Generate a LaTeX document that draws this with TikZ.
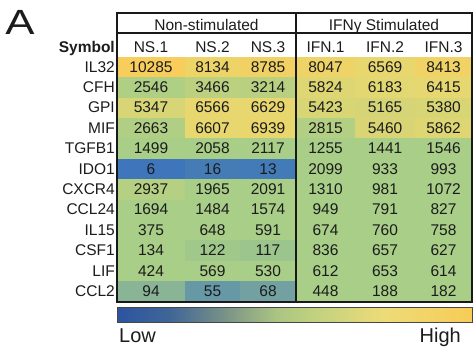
\documentclass[tikz,border=0pt]{standalone}
\usepackage{fontspec}
\setmainfont{Liberation Sans}

% colour bar: blue (low) -> green -> yellow/orange (high)
\pgfdeclarehorizontalshading{heatbar}{100bp}{%
  rgb(0bp)=(0.17,0.33,0.63);
  rgb(25bp)=(0.17,0.33,0.63);
  rgb(32.5bp)=(0.25,0.40,0.59);
  rgb(40bp)=(0.47,0.57,0.53);
  rgb(47.5bp)=(0.67,0.77,0.51);
  rgb(52.5bp)=(0.75,0.82,0.50);
  rgb(62.5bp)=(0.93,0.86,0.47);
  rgb(75bp)=(0.97,0.80,0.34);
  rgb(100bp)=(0.97,0.80,0.34)}

% cell colour from an expression value (piecewise blue -> green -> yellow -> orange)
\newcommand\heatfill[1]{%
  \pgfmathsetmacro\tlo{min(max((#1-6)/124,0),1)}%
  \pgfmathsetmacro\tmid{min(max((#1-2000)/4500,0),1)}%
  \pgfmathsetmacro\thi{min(max((#1-6500)/3785,0),1)}%
  \pgfmathtruncatemacro\hr{62+106*\tlo+64*\tmid+16*\thi}%
  \pgfmathtruncatemacro\hg{117+89*\tlo+10*\tmid-11*\thi}%
  \pgfmathtruncatemacro\hb{187-51*\tlo-24*\tmid-20*\thi}%
  \definecolor{heat}{RGB}{\hr,\hg,\hb}}

\definecolor{ink}{RGB}{28,28,28}
\definecolor{rule}{RGB}{25,25,25}

\begin{document}
\begin{tikzpicture}[x=1pt,y=-1pt,
  valtext/.style={anchor=base,inner sep=0pt,text=ink,font=\fontsize{15.5}{18}\selectfont},
  symtext/.style={anchor=base east,inner sep=0pt,text=ink,font=\fontsize{15.5}{18}\selectfont},
  hdrtext/.style={anchor=base,inner sep=0pt,text=ink,font=\fontsize{15.5}{18}\selectfont},
  frame/.style={draw=rule,line width=1.5pt},
  thinframe/.style={draw=rule,line width=1.1pt},
  barlabel/.style={anchor=base,inner sep=0pt,text=ink,font=\fontsize{20}{24}\selectfont}]
\useasboundingbox (0,0) rectangle (473,352);

% panel letter
\node[anchor=base,inner sep=0pt,text=ink,font=\fontsize{35}{40}\selectfont] (panel) at (20,35) {\scalebox{1.25}[1]{A}};

% group headers
\node[hdrtext] (hns) at (206.5,31) {Non-stimulated};
\node[hdrtext] (hifn) at (384,31) {IFNγ Stimulated};

% column headers
\node[symtext,font=\fontsize{15.5}{18}\selectfont\bfseries] (hsym) at (115,52.5) {Symbol};
\foreach \h [count=\j from 0] in {NS.1,NS.2,NS.3,IFN.1,IFN.2,IFN.3}{
  \pgfmathsetmacro\xl{{117,185,240,296,355,415}[\j]}
  \pgfmathsetmacro\xr{{185,240,296,355,415,472}[\j]}
  \node[hdrtext] (col-\j) at ({(\xl+\xr)/2},52.5) {\h};
}

% heat-map body
\foreach \sym/\a/\b/\c/\d/\e/\f [count=\i from 0] in {
  IL32/10285/8134/8785/8047/6569/8413,
  CFH/2546/3466/3214/5824/6183/6415,
  GPI/5347/6566/6629/5423/5165/5380,
  MIF/2663/6607/6939/2815/5460/5862,
  TGFB1/1499/2058/2117/1255/1441/1546,
  IDO1/6/16/13/2099/933/993,
  CXCR4/2937/1965/2091/1310/981/1072,
  CCL24/1694/1484/1574/949/791/827,
  IL15/375/648/591/674/760/758,
  CSF1/134/122/117/836/657/627,
  LIF/424/569/530/612/653/614,
  CCL2/94/55/68/448/188/182}{
  \pgfmathsetmacro\ytop{56.8+20.4*\i}
  \pgfmathsetmacro\ybot{\ytop+20.4}
  \pgfmathsetmacro\ybase{\ytop+15.4}
  \node[symtext] (sym-\i) at (115,\ybase) {\sym};
  \foreach \v [count=\j from 0] in {\a,\b,\c,\d,\e,\f}{
    \pgfmathsetmacro\xl{{117,185,240,296,355,415}[\j]}
    \pgfmathsetmacro\xr{{185,240,296,355,415,472}[\j]}
    \heatfill{\v}
    \fill[heat] (\xl,\ytop) rectangle (\xr+0.4,\ybot+0.4);
    \node[valtext] (val-\i-\j) at ({(\xl+\xr)/2},\ybase) {\v};
  }
}

% table rules
\coordinate (tl) at (117,13);
\coordinate (tr) at (472,13);
\coordinate (bl) at (117,302);
\coordinate (br) at (472,302);
\coordinate (ml) at (117,33);
\coordinate (mr) at (472,33);
\coordinate (dt) at (296,13);
\coordinate (db) at (296,302);
\draw[thinframe] (ml) -- (mr);
\draw[frame] (dt) -- (db);
\draw[frame] (tl) -- (tr) -- (br) -- (bl) -- cycle;

% colour scale
\coordinate (barl) at (117,307);
\coordinate (barr) at (472,322);
\shade[shading=heatbar] (barl) rectangle (barr);
\draw[draw=rule!80,line width=0.8pt] (barl) rectangle (barr);
\node[barlabel,anchor=base west] (low) at (119,342) {Low};
\node[barlabel,anchor=base east] (high) at (461,342) {High};
\end{tikzpicture}
\end{document}
